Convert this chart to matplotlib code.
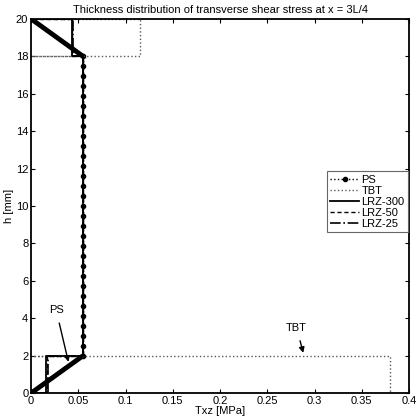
import matplotlib
matplotlib.use("Agg")
import matplotlib.pyplot as plt

plt.rcParams['font.family'] = ['Liberation Sans', 'DejaVu Sans']

# PS (dense FE points): linear in skins, constant in core
ps_h = [0, 2, 2.53, 3.07, 3.60, 4.13, 4.67, 5.20, 5.73, 6.27, 6.80, 7.33, 7.87,
        8.40, 8.93, 9.47, 10.00, 10.53, 11.07, 11.60, 12.13, 12.67, 13.20, 13.73,
        14.27, 14.80, 15.33, 15.87, 16.40, 16.93, 17.47, 18, 20]
ps_tau = [0] + [0.055] * 31 + [0]

# TBT: piecewise constant per layer
tbt_tau = [0, 0.38, 0.38, 0, 0.055, 0.055, 0, 0.115, 0.115, 0]
tbt_h = [0, 0, 2, 2, 2, 18, 18, 18, 20, 20]

# LRZ models
lrz_h = [0, 0, 2, 2, 18, 18, 20, 20]
lrz300_tau = [0, 0.0155, 0.0155, 0.055, 0.055, 0.043, 0.043, 0]
lrz50_tau = [0, 0.017, 0.017, 0.055, 0.055, 0.0435, 0.0435, 0]
lrz25_tau = [0, 0.018, 0.018, 0.055, 0.055, 0.044, 0.044, 0]

fig = plt.figure(figsize=(4.2, 4.2), dpi=100)
ax = fig.add_axes([0.074, 0.064, 0.900, 0.891])

# thick skin parts of PS (markers merge into a thick line)
ax.plot(ps_tau[:2], ps_h[:2], 'k-', lw=3.5, solid_capstyle='butt')
ax.plot(ps_tau[-2:], ps_h[-2:], 'k-', lw=3.5, solid_capstyle='butt')

ax.plot(ps_tau[1:-1], ps_h[1:-1], 'k:', marker='o', ms=3, lw=1, label='PS')
ax.plot(tbt_tau, tbt_h, ':', color='0.35', lw=1, label='TBT')
ax.plot(lrz300_tau, lrz_h, 'k-', lw=1.3, label='LRZ-300')
ax.plot(lrz50_tau, lrz_h, 'k--', lw=1, dashes=(3, 2), label='LRZ-50')
ax.plot(lrz25_tau, lrz_h, 'k-.', lw=1.2, label='LRZ-25')

ax.set_xlim(0, 0.4)
ax.set_ylim(0, 20)
ax.set_xticks([0, 0.05, 0.1, 0.15, 0.2, 0.25, 0.3, 0.35, 0.4])
ax.set_xticklabels(['0', '0.05', '0.1', '0.15', '0.2', '0.25', '0.3', '0.35', '0.4'])
ax.set_yticks(range(0, 21, 2))
ax.tick_params(direction='in', top=True, right=True, labelsize=8, length=3, pad=2)
for s in ax.spines.values():
    s.set_linewidth(1.3)

ax.set_xlabel('Txz [MPa]', fontsize=8, labelpad=0)
ax.set_ylabel('h [mm]', fontsize=8, labelpad=1)
ax.set_title('Thickness distribution of transverse shear stress at x = 3L/4',
             fontsize=8, pad=4)

ax.annotate('PS', xy=(0.0395, 1.67), xytext=(0.0265, 4.45), fontsize=8,
            ha='center', va='center',
            arrowprops=dict(arrowstyle='-|>', color='k', lw=1, mutation_scale=8,
                            shrinkA=4, shrinkB=0))
ax.annotate('TBT', xy=(0.288, 2.15), xytext=(0.281, 3.5), fontsize=8,
            ha='center', va='center',
            arrowprops=dict(arrowstyle='-|>', color='k', lw=1, mutation_scale=8,
                            shrinkA=4, shrinkB=0))

leg = ax.legend(loc='upper right', bbox_to_anchor=(0.997, 0.593), fontsize=8,
                handlelength=2.6, labelspacing=0.1, borderpad=0.3,
                handletextpad=0.2, fancybox=False, framealpha=1, borderaxespad=0)
leg.get_frame().set_edgecolor('0.4')
leg.get_frame().set_linewidth(0.8)

fig.savefig('out.png', dpi=100)
